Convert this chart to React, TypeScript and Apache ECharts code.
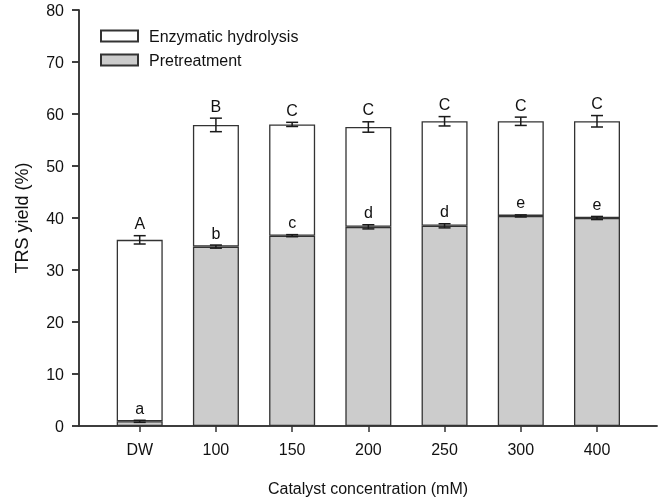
import React, { useEffect, useRef } from "react";
import * as echarts from "echarts";

const categories = ["DW", "100", "150", "200", "250", "300", "400"];
const pretreatment = [0.9, 34.5, 36.6, 38.3, 38.5, 40.4, 40.0];
const pretreatmentErr = [0.2, 0.3, 0.2, 0.4, 0.4, 0.2, 0.3];
const enzymatic = [34.9, 23.4, 21.4, 19.2, 20.1, 18.2, 18.6];
const totalErr = [0.8, 1.3, 0.4, 1.0, 0.9, 0.8, 1.1];
const upperLetters = ["A", "B", "C", "C", "C", "C", "C"];
const lowerLetters = ["a", "b", "c", "d", "d", "e", "e"];
const yTicks = [0, 10, 20, 30, 40, 50, 60, 70, 80];

const FONT = "Liberation Sans, Arial, sans-serif";
const INK = "#111";
const LINE = "#333";

export default function App() {
  const ref = useRef<HTMLDivElement>(null);
  useEffect(() => {
    if (!ref.current) return;
    const chart = echarts.init(ref.current, null, { renderer: "svg" });

    const makeErr = (centers: number[], errs: number[], letters: string[]) => ({
      type: "custom",
      xAxisIndex: 0,
      yAxisIndex: 0,
      silent: true,
      z: 10,
      data: centers.map((c, i) => [i, c, errs[i]]),
      renderItem: (params: any, api: any) => {
        const i = api.value(0);
        const c = api.value(1);
        const e = api.value(2);
        const top = api.coord([i, c + e]);
        const bot = api.coord([i, c - e]);
        const x = top[0];
        const hw = 6;
        const st = { stroke: "#1a1a1a", lineWidth: 1.5 };
        return {
          type: "group",
          children: [
            { type: "line", shape: { x1: x, y1: top[1], x2: x, y2: bot[1] }, style: st },
            { type: "line", shape: { x1: x - hw, y1: top[1], x2: x + hw, y2: top[1] }, style: st },
            { type: "line", shape: { x1: x - hw, y1: bot[1], x2: x + hw, y2: bot[1] }, style: st },
            {
              type: "text",
              x: x,
              y: top[1] - 4,
              style: {
                text: letters[params.dataIndex],
                fontFamily: FONT,
                fontSize: 16,
                fill: INK,
                align: "center",
                verticalAlign: "bottom",
              },
            },
          ],
        };
      },
    });

    const totals = pretreatment.map((p, i) => p + enzymatic[i]);

    chart.setOption({
      animation: false,
      textStyle: { fontFamily: FONT },
      grid: [
        { left: 101.6, right: 32.9, top: 10, bottom: 71, outerBoundsMode: "none", containLabel: false },
        { left: 79, right: 11, top: 10, bottom: 71, outerBoundsMode: "none", containLabel: false },
      ],
      legend: {
        data: ["Enzymatic hydrolysis", "Pretreatment"],
        orient: "vertical",
        left: 100,
        top: 28,
        padding: 0,
        itemWidth: 37,
        itemHeight: 11,
        itemGap: 8,
        icon: "rect",
        textStyle: { fontFamily: FONT, fontSize: 16, color: INK, padding: [0, 0, 0, 6] },
      },
      xAxis: [
        {
          type: "category",
          gridIndex: 0,
          data: categories,
          axisLine: { show: false },
          axisTick: { show: true, alignWithLabel: true, length: 6, lineStyle: { color: LINE, width: 1.5 } },
          axisLabel: { fontFamily: FONT, fontSize: 16, color: INK, margin: 15 },
          splitLine: { show: false },
        },
        {
          type: "value",
          gridIndex: 1,
          min: 0,
          max: 1,
          position: "bottom",
          axisLine: { show: true, lineStyle: { color: LINE, width: 1.5 } },
          axisTick: { show: false },
          axisLabel: { show: false },
          splitLine: { show: false },
          name: "Catalyst concentration (mM)",
          nameLocation: "middle",
          nameGap: 54,
          nameTextStyle: { fontFamily: FONT, fontSize: 16, color: INK },
        },
        {
          type: "value",
          gridIndex: 1,
          min: 0,
          max: 1,
          position: "top",
          axisLine: { show: true, lineStyle: { color: LINE, width: 1.5 } },
          axisTick: { show: false },
          axisLabel: { show: false },
          splitLine: { show: false },
        },
      ],
      yAxis: [
        {
          type: "value",
          gridIndex: 0,
          min: yTicks[0],
          max: yTicks[yTicks.length - 1],
          interval: 10,
          show: false,
        },
        {
          type: "value",
          gridIndex: 1,
          min: yTicks[0],
          max: yTicks[yTicks.length - 1],
          interval: 10,
          position: "left",
          axisLine: { show: true, lineStyle: { color: LINE, width: 1.5 } },
          axisTick: { show: true, length: 7, lineStyle: { color: LINE, width: 1.5 } },
          axisLabel: { fontFamily: FONT, fontSize: 16, color: INK, margin: 15 },
          splitLine: { show: false },
          name: "TRS yield (%)",
          nameLocation: "middle",
          nameGap: 48,
          nameTextStyle: { fontFamily: FONT, fontSize: 18, color: INK },
        },
        {
          type: "value",
          gridIndex: 1,
          min: yTicks[0],
          max: yTicks[yTicks.length - 1],
          interval: 10,
          position: "right",
          axisLine: { show: true, lineStyle: { color: LINE, width: 1.5 } },
          axisTick: { show: true, inside: true, length: 7, lineStyle: { color: LINE, width: 1.5 } },
          axisLabel: { show: false },
          splitLine: { show: false },
        },
      ],
      series: [
        {
          name: "Pretreatment",
          type: "bar",
          stack: "trs",
          xAxisIndex: 0,
          yAxisIndex: 0,
          barWidth: 46,
          data: pretreatment,
          itemStyle: { color: "#cccccc", borderColor: LINE, borderWidth: 1.3 },
        },
        {
          name: "Enzymatic hydrolysis",
          type: "bar",
          stack: "trs",
          xAxisIndex: 0,
          yAxisIndex: 0,
          barWidth: 46,
          data: enzymatic,
          itemStyle: { color: "#ffffff", borderColor: LINE, borderWidth: 1.3 },
        },
        makeErr(pretreatment, pretreatmentErr, lowerLetters),
        makeErr(totals, totalErr, upperLetters),
      ],
    });
    return () => chart.dispose();
  }, []);
  return <div ref={ref} style={{ position: "fixed", left: 0, top: 0, width: 668, height: 497 }} />;
}
